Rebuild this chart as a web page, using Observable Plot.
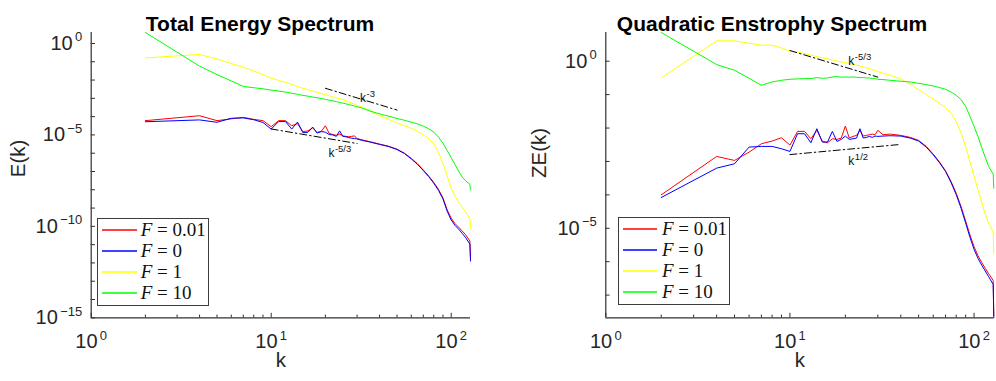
<!DOCTYPE html>
<html><head><meta charset="utf-8">
<script src="https://cdn.jsdelivr.net/npm/d3@7"></script>
<script src="https://cdn.jsdelivr.net/npm/@observablehq/plot@0.6"></script>
<style>
body{margin:0;background:#fff}
#root{position:relative;width:996px;height:381px;overflow:hidden;background:#fff;font-family:"Liberation Sans",Arial,sans-serif}
.panel{position:absolute;top:0}
.legend{position:absolute;border:1px solid #3c3c3c;background:#fff;box-sizing:border-box;font-family:"Liberation Serif","DejaVu Serif",serif;font-size:19px;color:#111}
.row{position:absolute;left:0;right:0;height:21px}
.swatch{position:absolute;top:0;overflow:visible}
.lab{position:absolute;top:0;line-height:21px;white-space:nowrap}
</style></head>
<body><div id="root"></div>
<script>
// ---------- data ----------
const K = [2,4,5,6,7,8,9,10,11,12,13,14,15,16,17,18,19,20,21,22,23,24,25,26,27,28,29,30,32,35,40,45,50,55,60,65,70,75,80,85,90,95,100,105,110,115,120,127,128];

// log10 of E(k)
const logE_F001 = [-4.22,-3.95,-4.22,-4.12,-4.04,-4.15,-4.22,-4.55,-4.22,-4.22,-4.5,-4.38,-4.82,-4.78,-4.62,-4.86,-4.8,-4.5,-4.92,-4.98,-5.02,-4.95,-5.05,-5.08,-5.1,-5.08,-5.05,-5.2,-5.27,-5.36,-5.5,-5.62,-5.78,-6.0,-6.28,-6.58,-6.92,-7.25,-7.6,-7.98,-8.45,-9.1,-9.55,-9.85,-10.05,-10.25,-10.45,-10.8,-11.7];
const logE_F0   = [-4.28,-4.18,-4.31,-4.09,-4.07,-4.17,-4.32,-4.68,-4.27,-4.27,-4.68,-4.3,-4.88,-4.86,-4.57,-4.9,-4.82,-4.85,-4.98,-5.0,-5.08,-4.78,-5.08,-5.1,-5.15,-5.18,-5.2,-5.22,-5.3,-5.38,-5.52,-5.64,-5.8,-6.02,-6.31,-6.61,-6.95,-7.28,-7.64,-8.03,-8.5,-9.17,-9.65,-9.95,-10.15,-10.38,-10.6,-10.97,-11.9];
const logE_F1   = [-0.79,-0.6,-0.85,-1.1,-1.3,-1.5,-1.7,-1.9,-2.02,-2.12,-2.24,-2.35,-2.45,-2.52,-2.6,-2.67,-2.74,-2.8,-2.86,-2.92,-2.97,-3.02,-3.08,-3.14,-3.2,-3.26,-3.32,-3.38,-3.48,-3.65,-3.95,-4.15,-4.35,-4.5,-4.64,-4.8,-5.0,-5.2,-5.48,-5.95,-6.55,-7.25,-7.9,-8.35,-8.7,-8.95,-9.2,-9.55,-10.1];
const logE_F10  = [0.60,-1.24,-1.7,-2.05,-2.35,-2.42,-2.48,-2.55,-2.6,-2.66,-2.72,-2.78,-2.84,-2.88,-2.93,-2.97,-3.01,-3.06,-3.1,-3.14,-3.18,-3.22,-3.26,-3.3,-3.34,-3.38,-3.42,-3.46,-3.53,-3.68,-3.85,-3.98,-4.1,-4.2,-4.3,-4.4,-4.52,-4.66,-4.85,-5.12,-5.45,-5.85,-6.25,-6.62,-6.98,-7.3,-7.5,-7.7,-8.0];

// log10 of ZE(k)
const logZE_F001 = [-4.0,-2.85,-2.97,-2.72,-2.47,-2.39,-2.29,-2.51,-2.1,-2.1,-2.32,-2.07,-2.4,-2.44,-2.32,-2.34,-2.3,-1.94,-2.3,-2.25,-2.22,-2.07,-2.24,-2.22,-2.2,-2.18,-2.2,-2.07,-2.2,-2.18,-2.22,-2.28,-2.37,-2.55,-2.78,-3.02,-3.28,-3.6,-3.95,-4.35,-4.78,-5.2,-5.55,-5.82,-6.02,-6.2,-6.36,-6.56,-7.62];
const logZE_F0   = [-4.08,-3.2,-3.07,-2.57,-2.55,-2.55,-2.62,-2.7,-2.17,-2.17,-2.44,-2.02,-2.42,-2.42,-2.1,-2.4,-2.34,-2.24,-2.34,-2.32,-2.3,-2.02,-2.3,-2.28,-2.25,-2.28,-2.24,-2.25,-2.24,-2.23,-2.24,-2.3,-2.39,-2.57,-2.8,-3.04,-3.3,-3.63,-3.99,-4.4,-4.84,-5.27,-5.63,-5.9,-6.1,-6.28,-6.45,-6.68,-7.68];
const logZE_F1   = [-0.5,0.61,0.61,0.54,0.48,0.48,0.4,0.3,0.27,0.23,0.18,0.14,0.1,0.07,0.04,0.01,-0.02,-0.04,-0.07,-0.09,-0.12,-0.14,-0.17,-0.2,-0.22,-0.25,-0.28,-0.31,-0.36,-0.42,-0.53,-0.68,-0.85,-1.0,-1.13,-1.26,-1.39,-1.56,-1.8,-2.15,-2.55,-3.0,-3.43,-3.85,-4.22,-4.58,-4.85,-5.1,-5.75];
const logZE_F10  = [0.86,-0.1,-0.27,-0.51,-0.72,-0.62,-0.57,-0.54,-0.53,-0.52,-0.52,-0.49,-0.51,-0.5,-0.47,-0.46,-0.48,-0.47,-0.48,-0.47,-0.48,-0.49,-0.49,-0.5,-0.5,-0.52,-0.52,-0.54,-0.55,-0.57,-0.6,-0.62,-0.66,-0.7,-0.74,-0.79,-0.84,-0.92,-1.02,-1.15,-1.35,-1.65,-1.95,-2.25,-2.58,-2.88,-3.15,-3.38,-3.8];

const seriesNames = ["0.01", "0", "1", "10"];
const seriesColors = ["#ff0000", "#0000ff", "#ffff00", "#00ff00"];

// reference power-law guide lines (k endpoints, log10 value endpoints) and labels
const refK_E = [[20, 50], [10, 30]];
const refV_E = [[-2.45, -3.64], [-4.675, -5.47]];
const noteK_E = [30, 20], noteV_E = [-3, -6], noteText_E = ["k^-3", "k^-5/3"];
const refK_ZE = [[10, 30], [10, 40]];
const refV_ZE = [[0.32, -0.475], [-2.794, -2.49]];
const noteK_ZE = [20, 20], noteV_ZE = [0, -3], noteText_ZE = ["k^-5/3", "k^1/2"];

// ticks
const kDomain = [1, 128];
const kMajor = [1, 10, 100];
const kMinor = [2,3,4,5,6,7,8,9,20,30,40,50,60,70,80,90];
const eMajor = [1e-15, 1e-10, 1e-5, 1];
const eMinor = d3.range(-15, 1).map(e => 10 ** e);
const zeMajor = [1e-5, 1];
const zeMinor = d3.range(-7, 1).map(e => 10 ** e);

// ---------- drawing ----------
const AX = "#303030";
const H = 381, MT = 32, MB = 63.7;
const supFmt = d => { const e = Math.round(Math.log10(d)); return "10^" + (e < 0 ? "\u2212" + (-e) : e); };

function supify(el, size, raise, gap) {
  const s = el.textContent; const i = s.indexOf("^"); if (i < 0) return;
  el.textContent = "";
  const t = d3.select(el);
  t.append("tspan").text(s.slice(0, i));
  t.append("tspan").attr("font-size", size).attr("dy", -raise).attr("dx", gap).text(s.slice(i + 1));
}

function panel(cfg) {
  const {width, marginLeft, marginRight, yDomain, yMajor, yMinor, logs, refK, refV, noteK, noteV, noteText,
         title, titleDx, ylabel, ylabelDx, ylabelDy} = cfg;
  const frameW = width - marginLeft - marginRight, frameH = H - MT - MB;
  const marks = [
    Plot.ruleX([kDomain[0]], {stroke: AX, strokeWidth: 1.2}),
    Plot.ruleY([yDomain[0]], {stroke: AX, strokeWidth: 1.2}),
    Plot.tickX(kMinor, {x: d => d, stroke: AX, insetTop: frameH - 2.7}),
    Plot.tickX(kMajor, {x: d => d, stroke: AX, insetTop: frameH - 4.5}),
    Plot.tickY(yMinor, {y: d => d, stroke: AX, insetRight: frameW - 4.3}),
    Plot.axisX({ticks: kMajor, tickFormat: supFmt, tickSize: 0, tickPadding: 16, fontSize: 20, fill: "#262626", label: null}),
    Plot.axisY({ticks: yMajor, tickFormat: supFmt, tickSize: 0, tickPadding: 9, fontSize: 20, fill: "#262626", label: null})
  ];
  logs.forEach((lv, j) => {
    marks.push(Plot.line(K.map((k, i) => ({k, v: 10 ** lv[i]})), {x: "k", y: "v", stroke: seriesColors[j], strokeWidth: 1}));
  });
  refK.forEach((ks, j) => {
    marks.push(Plot.line(ks.map((k, i) => ({k, v: 10 ** refV[j][i]})), {x: "k", y: "v", stroke: "#000", strokeWidth: 1, strokeDasharray: "7,3,1.5,3"}));
  });
  marks.push(Plot.text(noteText.map((t, i) => ({k: noteK[i], v: 10 ** noteV[i], t})), {x: "k", y: "v", text: "t", textAnchor: "start", dx: 3, fontSize: 12, fill: "#111"}));
  marks.push(Plot.text([title], {frameAnchor: "top", dx: titleDx, dy: -16.6, fontSize: 21, fontWeight: "bold", fill: "#000"}));
  marks.push(Plot.text(["k"], {frameAnchor: "bottom", dy: 49.6, fontSize: 20.5, fill: "#262626"}));
  marks.push(Plot.text([ylabel], {frameAnchor: "left", dx: ylabelDx, dy: ylabelDy, rotate: -90, fontSize: 20.5, fill: "#262626"}));

  const svg = Plot.plot({
    width, height: H, marginTop: MT, marginBottom: MB, marginLeft, marginRight,
    style: {fontFamily: "'Liberation Sans', Arial, sans-serif", background: "transparent", overflow: "visible"},
    x: {type: "log", domain: kDomain},
    y: {type: "log", domain: yDomain},
    marks
  });
  d3.select(svg).selectAll('g[aria-label="x-axis tick label"] text, g[aria-label="y-axis tick label"] text')
    .each(function() { supify(this, 13, 8.5, 2.3); });
  d3.select(svg).selectAll('g[aria-label="text"] text')
    .each(function() { if (this.textContent.includes("^")) supify(this, 9.5, 5, 0.5); });
  return svg;
}

function legend(left, top, w, h, swLeft, swWidth, txtLeft) {
  const div = document.createElement("div");
  div.className = "legend";
  Object.assign(div.style, {left: left + "px", top: top + "px", width: w + "px", height: h + "px"});
  seriesNames.forEach((n, i) => {
    const row = document.createElement("div");
    row.className = "row";
    row.style.top = Math.round(i * 21.1) + "px";
    row.innerHTML = `<svg class="swatch" style="left:${swLeft}px" width="${swWidth}" height="21"><line x1="0" x2="${swWidth}" y1="11" y2="11" stroke="${seriesColors[i]}" stroke-width="1.3"/></svg>` +
      `<div class="lab" style="left:${txtLeft}px"><i>F</i> = ${n}</div>`;
    div.appendChild(row);
  });
  return div;
}

const root = document.getElementById("root");
const maxE = d3.max([logE_F001, logE_F0, logE_F1, logE_F10].flat());
const allZE = [logZE_F001, logZE_F0, logZE_F1, logZE_F10].flat();

const left = panel({
  width: 498, marginLeft: 90.7, marginRight: 28,
  yDomain: [1e-15, 10 ** maxE], yMajor: eMajor, yMinor: eMinor,
  logs: [logE_F001, logE_F0, logE_F1, logE_F10],
  refK: refK_E, refV: refV_E, noteK: noteK_E, noteV: noteV_E, noteText: noteText_E,
  title: "Total Energy Spectrum", titleDx: -20.85, ylabel: "E(k)", ylabelDx: -73, ylabelDy: 2
});
const right = panel({
  width: 498, marginLeft: 107.3, marginRight: 2.7,
  yDomain: [10 ** d3.min(allZE), 10 ** d3.max(allZE)], yMajor: zeMajor, yMinor: zeMinor,
  logs: [logZE_F001, logZE_F0, logZE_F1, logZE_F10],
  refK: refK_ZE, refV: refV_ZE, noteK: noteK_ZE, noteV: noteV_ZE, noteText: noteText_ZE,
  title: "Quadratic Enstrophy Spectrum", titleDx: -27.8, ylabel: "ZE(k)", ylabelDx: -66.6, ylabelDy: 2.9
});
const p1 = document.createElement("div"); p1.className = "panel"; p1.style.left = "0px"; p1.appendChild(left);
const p2 = document.createElement("div"); p2.className = "panel"; p2.style.left = "498px"; p2.appendChild(right);
root.appendChild(p1); root.appendChild(p2);
root.appendChild(legend(97, 218, 112, 88, 3.7, 35, 42.7));
root.appendChild(legend(618, 217, 112, 88, 4, 34, 43));
</script></body></html>
